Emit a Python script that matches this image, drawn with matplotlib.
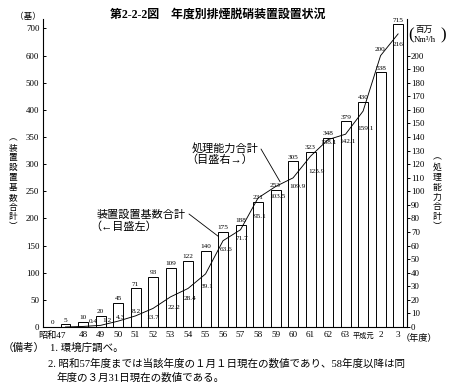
import numpy as np
import matplotlib
matplotlib.use('Agg')
import matplotlib.pyplot as plt

plt.rcParams['font.family'] = ['Liberation Serif', 'Noto Sans CJK JP']

# data
years = ['昭和47', '48', '49', '50', '51', '52', '53', '54', '55', '56',
         '57', '58', '59', '60', '61', '62', '63', '平成元', '2', '3']
units = [5, 10, 20, 45, 71, 93, 109, 122, 140, 175,
         188, 231, 253, 305, 323, 348, 379, 430, 538, 715]
capacity = [0, 0.4, 1.2, 4.3, 8.2, 13.7, 22.2, 28.4, 39.1, 63.6,
            71.7, 95.1, 103.5, 109.9, 125.9, 138.1, 142.1, 159.1, 200, 216]
left_ticks = [0, 50, 100, 150, 200, 250, 300, 350, 400, 500, 600, 700]
right_ticks = list(range(0, 201, 10))

# label offsets (pixels, x right / y up) for the capacity values
cap_offsets = [(-13, 5), (10, 4.5), (6.5, 5), (2, 4), (0.5, 4), (0, -9), (3, -11),
               (2, -10), (1, -13), (3, -9), (1, -9), (2, -19), (2, -10), (4, -9),
               (6, -15), (0, -3), (1.5, -7), (2, -17), (-1, 6), (0, -11)]

W, H = 451, 388


def fx(x):
    return x / W


def fy(y):
    return 1 - y / H


# left axis is linear up to 400, then compressed (100 per gridstep)
def fwd(v):
    v = np.asarray(v, dtype=float)
    return np.where(v <= 400, v, 400 + (v - 400) / 2)


def inv(t):
    t = np.asarray(t, dtype=float)
    return np.where(t <= 400, t, 400 + (t - 400) * 2)


left_top = 735
right_top = float(fwd(left_top)) / 2.5

fig = plt.figure(figsize=(W / 100, H / 100), dpi=100)
ax = fig.add_axes([fx(43), fy(327), fx(407) - fx(43), fy(19) - fy(327)])
ax.set_yscale('function', functions=(fwd, inv))

x = np.arange(len(years))
ax.bar(x, units, width=0.57, facecolor='white', edgecolor='black', linewidth=0.7, zorder=2)
for xi, v in zip(x, units):
    ax.annotate(str(v), (xi, v), xytext=(0, 1.2), textcoords='offset points',
                ha='center', va='bottom', fontsize=5.2, zorder=3)

ax.set_xlim(-1.286, 19.51)
ax.set_ylim(0, left_top)
ax.set_yticks(left_ticks)
ax.set_yticklabels([str(t) for t in left_ticks])
ax.tick_params(axis='y', direction='in', length=2.2, width=0.7, pad=2.6, labelsize=6.4)
ax.set_xticks(x)
ax.set_xticklabels(years)
ax.tick_params(axis='x', length=0, pad=3.2, labelsize=6.6)
xt = ax.get_xticklabels()
xt[0].set_horizontalalignment('right')
xt[17].set_fontsize(5.2)
for s in ['top', 'right']:
    ax.spines[s].set_visible(False)
ax.spines['left'].set_linewidth(0.8)
ax.spines['bottom'].set_linewidth(0.8)

# right axis: processing capacity
ax2 = ax.twinx()
ax2.plot(x, capacity, color='black', linewidth=0.65, zorder=4)
for xi, v, (dx, dy) in zip(x, capacity, cap_offsets):
    ax2.annotate(f'{v:g}', (xi, v), xytext=(dx * 0.72, dy * 0.72), textcoords='offset points',
                 ha='center', va='center', fontsize=5.2)
ax2.set_ylim(0, right_top)
ax2.set_yticks(right_ticks)
ax2.tick_params(axis='y', direction='out', length=2.2, width=0.7, pad=0.6, labelsize=6.4)
for s in ['top', 'left', 'bottom']:
    ax2.spines[s].set_visible(False)
ax2.spines['right'].set_linewidth(0.8)

# callouts
fig.text(fx(192), fy(148), '処理能力合計', fontsize=8, ha='left', va='center')
fig.text(fx(186), fy(160), '（目盛右→）', fontsize=8, ha='left', va='center')
ax2.annotate('', xy=(12.26, 107), xycoords='data', xytext=(261, H - 149),
             textcoords='figure pixels',
             arrowprops=dict(arrowstyle='-', lw=0.6, shrinkA=0, shrinkB=0))

fig.text(fx(97), fy(215), '装置設置基数合計', fontsize=8, ha='left', va='center')
fig.text(fx(90), fy(227), '（←目盛左）', fontsize=8, ha='left', va='center')
ax.annotate('', xy=(9 - 0.27, 167), xycoords='data', xytext=(189, H - 214),
            textcoords='figure pixels',
            arrowprops=dict(arrowstyle='-', lw=0.6, shrinkA=0, shrinkB=0))

# title, units, axis names
fig.text(fx(218), fy(15), '第2-2-2図　年度別排煙脱硝装置設置状況', fontsize=8.6,
         fontweight='bold', ha='center', va='center')
fig.text(fx(28), fy(17), '（基）', fontsize=6.2, ha='center', va='center')
fig.text(fx(13), fy(183), '\n'.join('︵装置設置基数合計︶'), fontsize=6.2,
         ha='center', va='center', linespacing=1.3)
fig.text(fx(437), fy(192), '\n'.join('︵処理能力合計︶'), fontsize=6.4,
         ha='center', va='center', linespacing=1.3)
fig.text(fx(411), fy(35), '(', fontsize=12, ha='center', va='center')
fig.text(fx(443), fy(35), ')', fontsize=12, ha='center', va='center')
fig.text(fx(415), fy(30), '百万', fontsize=6.2, ha='left', va='center')
fig.text(fx(414), fy(40), 'Nm³/h', fontsize=6.2, ha='left', va='center')
fig.text(fx(401), fy(338), '（年度）', fontsize=6.6, ha='left', va='center')

# notes
fig.text(fx(3), fy(348), '（備考）', fontsize=7.6, ha='left', va='center')
fig.text(fx(50), fy(348), '1. 環境庁調べ。', fontsize=7.6, ha='left', va='center')
fig.text(fx(48), fy(364), '2. 昭和57年度までは当該年度の１月１日現在の数値であり、58年度以降は同',
         fontsize=7.6, ha='left', va='center')
fig.text(fx(57), fy(378), '年度の３月31日現在の数値である。', fontsize=7.6, ha='left', va='center')

fig.savefig('out.png', dpi=100)
